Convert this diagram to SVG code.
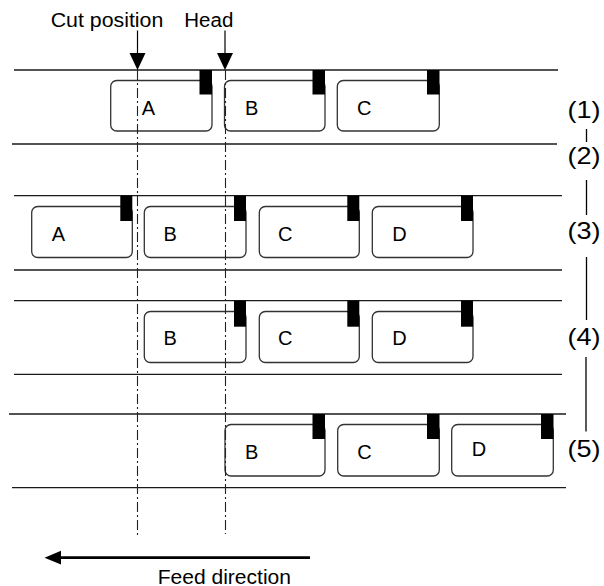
<svg xmlns="http://www.w3.org/2000/svg" width="604" height="586" viewBox="0 0 604 586">
<style>
.strip{stroke:#1a1a1a;stroke-width:1.3;fill:none}
.card{fill:#fff;stroke:#333;stroke-width:1.3}
.tab{fill:#000}
.lbl{font-family:"Liberation Sans",Arial,sans-serif;font-size:20px;fill:#000}
.step{font-family:"Liberation Sans",Arial,sans-serif;font-size:24px;fill:#000;text-anchor:middle}
.title{font-family:"Liberation Sans",Arial,sans-serif;font-size:20px;fill:#000}
.guide{stroke:#222;stroke-width:1.1;stroke-dasharray:10 3 2 3;fill:none}
.tick{stroke:#000;stroke-width:1.3}
.head{fill:#000}
</style>
<rect width="604" height="586" fill="#fff"/>
<g id="strips">
<line class="strip" x1="14" y1="70" x2="558" y2="70"/>
<line class="strip" x1="12" y1="144" x2="557" y2="144"/>
<line class="strip" x1="14" y1="195.7" x2="562" y2="195.7"/>
<line class="strip" x1="14" y1="270" x2="562" y2="270"/>
<line class="strip" x1="14" y1="300.7" x2="562" y2="300.7"/>
<line class="strip" x1="14" y1="374.3" x2="562" y2="374.3"/>
<line class="strip" x1="9" y1="414" x2="566" y2="414"/>
<line class="strip" x1="12" y1="487.7" x2="566" y2="487.7"/>
</g>
<g id="row1-A"><rect class="card" x="110.7" y="80.5" width="101.3" height="50.5" rx="6"/><rect class="tab" x="199.5" y="70" width="12.5" height="24.5"/><text class="lbl" x="141.7" y="114.5">A</text></g>
<g id="row1-B"><rect class="card" x="224.5" y="80.5" width="100.5" height="50.5" rx="6"/><rect class="tab" x="312.5" y="70" width="12.5" height="24.5"/><text class="lbl" x="245" y="114.5">B</text></g>
<g id="row1-C"><rect class="card" x="337.3" y="80.5" width="102" height="50.5" rx="6"/><rect class="tab" x="427" y="70" width="12.5" height="24.5"/><text class="lbl" x="357" y="114.5">C</text></g>
<g id="row2-A"><rect class="card" x="31.7" y="206.5" width="100.6" height="51" rx="6"/><rect class="tab" x="120.3" y="195.7" width="12" height="25.3"/><text class="lbl" x="51.7" y="240.5">A</text></g>
<g id="row2-B"><rect class="card" x="144.3" y="206.5" width="101.7" height="51" rx="6"/><rect class="tab" x="234" y="195.7" width="12" height="25.3"/><text class="lbl" x="163.5" y="240.5">B</text></g>
<g id="row2-C"><rect class="card" x="259.3" y="206.5" width="100" height="51" rx="6"/><rect class="tab" x="347.3" y="195.7" width="12" height="25.3"/><text class="lbl" x="278" y="240.5">C</text></g>
<g id="row2-D"><rect class="card" x="372.3" y="206.5" width="100.7" height="51" rx="6"/><rect class="tab" x="461" y="195.7" width="12" height="25.3"/><text class="lbl" x="392.3" y="240.5">D</text></g>
<g id="row3-B"><rect class="card" x="144.3" y="311.5" width="101.7" height="51" rx="6"/><rect class="tab" x="234" y="300.7" width="12" height="26"/><text class="lbl" x="163.5" y="344.5">B</text></g>
<g id="row3-C"><rect class="card" x="259.3" y="311.5" width="100" height="51" rx="6"/><rect class="tab" x="347.3" y="300.7" width="12" height="26"/><text class="lbl" x="278" y="344.5">C</text></g>
<g id="row3-D"><rect class="card" x="372.3" y="311.5" width="100.7" height="51" rx="6"/><rect class="tab" x="461" y="300.7" width="12" height="26"/><text class="lbl" x="392.3" y="344.5">D</text></g>
<g id="row4-B"><rect class="card" x="225" y="424.5" width="100" height="51.5" rx="6"/><rect class="tab" x="312.5" y="414" width="12.5" height="25"/><text class="lbl" x="245" y="459">B</text></g>
<g id="row4-C"><rect class="card" x="337.7" y="424.5" width="101.6" height="51.5" rx="6"/><rect class="tab" x="427" y="414" width="12.5" height="25"/><text class="lbl" x="357.3" y="459.3">C</text></g>
<g id="row4-D"><rect class="card" x="451.7" y="424.5" width="101.6" height="51.5" rx="6"/><rect class="tab" x="541" y="414" width="12.5" height="25"/><text class="lbl" x="471.7" y="456">D</text></g>
<g id="connectors">
<line class="guide" x1="137.5" y1="70" x2="137.5" y2="536"/>
<line class="guide" x1="225.5" y1="70" x2="225.5" y2="534"/>
<line stroke="#000" stroke-width="1.2" x1="137.5" y1="30.5" x2="137.5" y2="54"/>
<path class="head" d="M129.5 53 L145.5 53 L137.5 70 Z"/>
<line stroke="#000" stroke-width="1.2" x1="225" y1="30.5" x2="225" y2="54"/>
<path class="head" d="M217 53 L233 53 L225 70 Z"/>
<line class="tick" x1="586.5" y1="129" x2="586.5" y2="142"/>
<line class="tick" x1="586.5" y1="180" x2="586.5" y2="215"/>
<line class="tick" x1="586.5" y1="257" x2="586.5" y2="320"/>
<line class="tick" x1="586" y1="357" x2="586" y2="431.5"/>
<line stroke="#000" stroke-width="2.8" x1="58" y1="557.7" x2="310" y2="557.7"/>
<path class="head" d="M44.5 557.7 L61 550.8 L61 564.6 Z"/>
</g>
<g id="labels">
<text class="title" x="50.7" y="27.3" textLength="112.6" lengthAdjust="spacingAndGlyphs">Cut position</text>
<text class="title" x="184.3" y="27.3" textLength="49" lengthAdjust="spacingAndGlyphs">Head</text>
<text class="title" x="157.7" y="583.5" textLength="133.3" lengthAdjust="spacingAndGlyphs">Feed direction</text>
<text class="step" x="584" y="118" textLength="33" lengthAdjust="spacingAndGlyphs">(1)</text>
<text class="step" x="584" y="164" textLength="33" lengthAdjust="spacingAndGlyphs">(2)</text>
<text class="step" x="584" y="239" textLength="33" lengthAdjust="spacingAndGlyphs">(3)</text>
<text class="step" x="584" y="345" textLength="33" lengthAdjust="spacingAndGlyphs">(4)</text>
<text class="step" x="584" y="457" textLength="33" lengthAdjust="spacingAndGlyphs">(5)</text>
</g>
</svg>
